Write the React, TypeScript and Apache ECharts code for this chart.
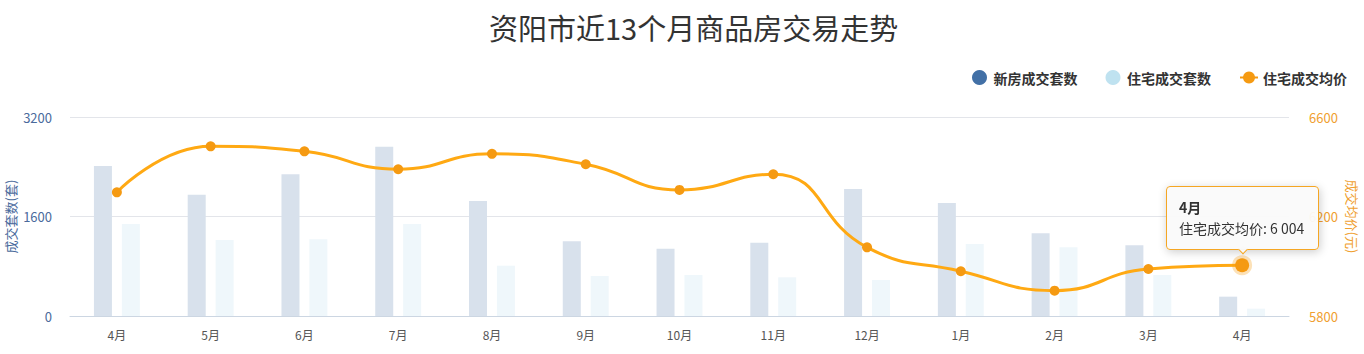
import React, { useEffect, useRef } from "react";
import * as echarts from "echarts";

const categories = ["4月", "5月", "6月", "7月", "8月", "9月", "10月", "11月", "12月", "1月", "2月", "3月", "4月"];
const newHouseCount = [2412, 1951, 2278, 2723, 1849, 1201, 1083, 1179, 2042, 1817, 1330, 1137, 311];
const residentialCount = [1479, 1222, 1233, 1479, 809, 643, 659, 622, 579, 1158, 1104, 659, 118];
const residentialPrice = [6297, 6482, 6462, 6390, 6452, 6410, 6307, 6370, 6076, 5980, 5902, 5989, 6004];
const leftTicks = [0, 1600, 3200];
const rightTicks = [5800, 6200, 6600];

const FONT = '"Noto Sans CJK SC", "Noto Sans", sans-serif';

function fmt(v: number) {
  return String(v).replace(/\B(?=(\d{3})+(?!\d))/g, " ");
}

export default function App() {
  const ref = useRef<HTMLDivElement>(null);
  useEffect(() => {
    document.body.style.margin = "0";
    const chart = echarts.init(ref.current!, null, { renderer: "svg" });
    chart.setOption({
      animation: false,
      textStyle: { fontFamily: FONT },
      title: {
        text: "资阳市近13个月商品房交易走势",
        left: 484,
        top: 7,
        textStyle: { fontSize: 29, fontWeight: "normal", color: "#333", fontFamily: FONT },
      },
      legend: {
        right: 12,
        top: 65,
        itemGap: 28,
        itemWidth: 18,
        itemHeight: 15,
        textStyle: { fontSize: 14, fontWeight: "bold", color: "#333", fontFamily: FONT },
        data: [
          { name: "新房成交套数", icon: "circle", itemStyle: { color: "#4270a6", opacity: 1 } },
          { name: "住宅成交套数", icon: "circle", itemStyle: { color: "#bfe2f0", opacity: 1 } },
          { name: "住宅成交均价" },
        ],
      },
      tooltip: {
        trigger: "item",
        position: "top",
        backgroundColor: "rgba(250,250,250,0.95)",
        borderColor: "#f5a623",
        borderWidth: 1,
        padding: [10, 14, 10, 12],
        textStyle: { fontSize: 14, color: "#333", fontFamily: FONT },
        formatter: (p: any) => `<b>${p.name}</b><br/>${p.seriesName}: ${fmt(p.value)}`,
      },
      grid: { left: 70, right: 75, top: 117, bottom: 38, containLabel: false, outerBoundsMode: "none" },
      xAxis: {
        type: "category",
        data: categories,
        axisLine: { lineStyle: { color: "#ccd6e2" } },
        axisTick: { show: false },
        axisLabel: { color: "#555", fontSize: 12, margin: 12 },
      },
      yAxis: [
        {
          type: "value",
          min: leftTicks[0],
          max: leftTicks[leftTicks.length - 1],
          interval: 1600,
          name: "成交套数(套)",
          nameLocation: "middle",
          nameGap: 53,
          nameMoveOverlap: false,
          nameTextStyle: { color: "#4a6a9c", fontSize: 13 },
          axisLine: { show: false },
          axisTick: { show: false },
          axisLabel: { color: "#4a6a9c", fontSize: 13, margin: 18, formatter: (v: number) => String(v) },
          splitLine: { lineStyle: { color: "#e3e5ea" } },
        },
        {
          type: "value",
          min: rightTicks[0],
          max: rightTicks[rightTicks.length - 1],
          interval: 400,
          name: "成交均价(元)",
          nameLocation: "middle",
          nameGap: 57,
          nameMoveOverlap: false,
          nameRotate: -90,
          nameTextStyle: { color: "#f0a030", fontSize: 13 },
          axisLine: { show: false },
          axisTick: { show: false },
          axisLabel: { color: "#f0a030", fontSize: 13, margin: 20, formatter: (v: number) => String(v) },
          splitLine: { show: false },
        },
      ],
      series: [
        {
          name: "新房成交套数",
          type: "bar",
          data: newHouseCount,
          barWidth: 18,
          barGap: "55%",
          itemStyle: { color: "#d8e1ec" },
        },
        {
          name: "住宅成交套数",
          type: "bar",
          data: residentialCount,
          barWidth: 18,
          itemStyle: { color: "#eff7fb" },
        },
        {
          name: "住宅成交均价",
          type: "line",
          yAxisIndex: 1,
          data: residentialPrice,
          smooth: true,
          symbol: "circle",
          symbolSize: 10,
          lineStyle: { color: "#f59a12", width: 3 },
          itemStyle: { color: "#f59a12" },
          emphasis: {
            scale: 1.4,
            itemStyle: { color: "#f59a12", borderColor: "rgba(245,154,18,0.3)", borderWidth: 6 },
          },
        },
      ],
    });
    chart.dispatchAction({ type: "highlight", seriesIndex: 2, dataIndex: 12 });
    chart.dispatchAction({ type: "showTip", seriesIndex: 2, dataIndex: 12 });
    return () => chart.dispose();
  }, []);
  return <div ref={ref} style={{ width: 1364, height: 354 }} />;
}
